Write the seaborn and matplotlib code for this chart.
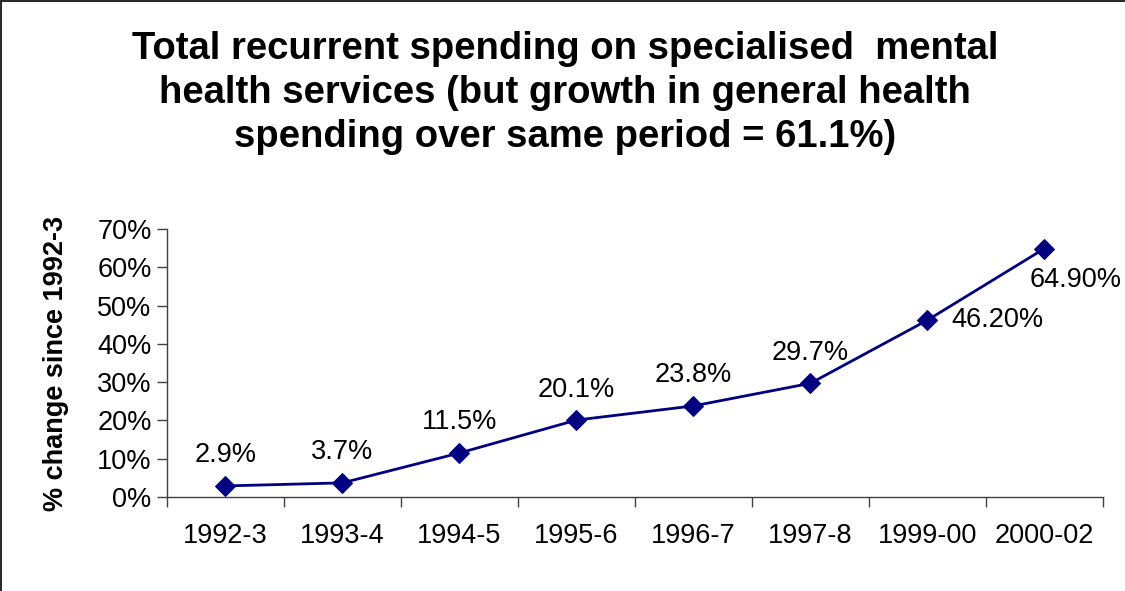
import matplotlib
matplotlib.use("Agg")
import matplotlib.pyplot as plt
import seaborn as sns
import pandas as pd
from matplotlib.ticker import FixedLocator, PercentFormatter
from matplotlib.lines import Line2D

periods = ["1992-3", "1993-4", "1994-5", "1995-6", "1996-7", "1997-8", "1999-00", "2000-02"]
change = [2.9, 3.7, 11.5, 20.1, 23.8, 29.7, 46.2, 64.9]
point_labels = ["2.9%", "3.7%", "11.5%", "20.1%", "23.8%", "29.7%", "46.20%", "64.90%"]
y_ticks = [0, 10, 20, 30, 40, 50, 60, 70]

sns.set_theme(style="white")
plt.rcParams["font.family"] = ["Liberation Sans", "DejaVu Sans"]
plt.rcParams["text.color"] = "black"
plt.rcParams["xtick.color"] = "black"
plt.rcParams["ytick.color"] = "black"
plt.rcParams["axes.labelcolor"] = "black"

FS = 19.5

df = pd.DataFrame({"idx": range(len(periods)), "period": periods, "change": change})

fig = plt.figure(figsize=(11.25, 5.91), dpi=100)
ax = fig.add_axes([0.1484, 0.159, 0.832, 0.4535])

sns.lineplot(data=df, x="idx", y="change", ax=ax, color="#000080", linewidth=2,
             marker="D", markersize=10, markeredgecolor="#000080", markerfacecolor="#000080")

ax.set_xlim(-0.5, len(periods) - 0.5)
ax.set_ylim(0, 70)
ax.set_xticks(range(len(periods)))
ax.set_xticklabels(periods, fontsize=FS)
ax.xaxis.set_minor_locator(FixedLocator([i - 0.5 for i in range(len(periods) + 1)]))
ax.tick_params(axis="x", which="major", length=0, pad=19)
ax.tick_params(axis="x", which="minor", length=7, direction="out", color="#404040", width=1, bottom=True)
ax.set_yticks(y_ticks)
ax.yaxis.set_major_formatter(PercentFormatter(decimals=0))
ax.tick_params(axis="y", length=7, direction="out", color="#404040", width=1, labelsize=FS, pad=4, left=True)
ax.set_xlabel("")
ax.set_ylabel("% change since 1992-3", fontsize=FS, fontweight="bold")
ax.yaxis.set_label_coords(-0.105, 0.5)

for s in ["top", "right"]:
    ax.spines[s].set_visible(False)
for s in ["left", "bottom"]:
    ax.spines[s].set_color("#404040")
    ax.spines[s].set_linewidth(1)

for i, (v, lab) in enumerate(zip(change, point_labels)):
    if i == 6:
        ax.annotate(lab, (i, v), xytext=(17, 0), textcoords="offset points",
                    ha="left", va="center", fontsize=FS)
    elif i == 7:
        ax.annotate(lab, (i, v), xytext=(-11, -23), textcoords="offset points",
                    ha="left", va="center", fontsize=FS)
    else:
        ax.annotate(lab, (i, v), xytext=(0, 22), textcoords="offset points",
                    ha="center", va="center", fontsize=FS)

title = ("Total recurrent spending on specialised  mental\n"
         "health services (but growth in general health\n"
         "spending over same period = 61.1%)")
fig.text(0.502, 1 - 93 / 591, title, ha="center", va="center", fontsize=27.5,
         fontweight="bold", linespacing=1.28)

fig.add_artist(Line2D([0.001, 0.001], [0, 0.999], transform=fig.transFigure, color="black", linewidth=1.2))
fig.add_artist(Line2D([0.001, 1], [0.999, 0.999], transform=fig.transFigure, color="black", linewidth=1.2))

fig.savefig("out.png", dpi=100, facecolor="white")
